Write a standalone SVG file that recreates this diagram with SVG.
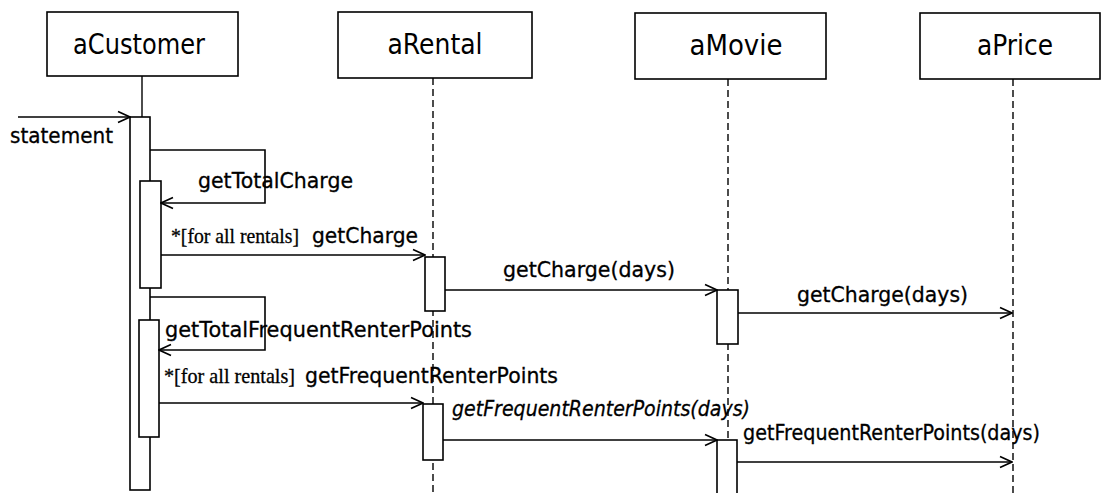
<svg xmlns="http://www.w3.org/2000/svg" width="1107" height="493" viewBox="0 0 1107 493">
  <style>
    .box { fill: #fff; stroke: #000; stroke-width: 1.6; }
    .act { fill: #fff; stroke: #000; stroke-width: 1.6; }
    .head { font-family: "DejaVu Sans", Verdana, sans-serif; font-size: 28px; fill: #000; text-anchor: middle; }
    .lbl { font-family: "DejaVu Sans", Verdana, sans-serif; font-size: 20.5px; fill: #000; stroke: #000; stroke-width: 0.3; }
    .guard { font-family: "Liberation Serif", "Times New Roman", serif; font-size: 21px; fill: #000; stroke: #000; stroke-width: 0.3; }
    .life { stroke: #000; stroke-width: 1.4; stroke-dasharray: 7 4; fill: none; }
    .msg { stroke: #000; stroke-width: 1.6; fill: none; }
  </style>
  <defs>
    <marker id="open" viewBox="0 0 14 14" refX="13" refY="7" markerWidth="14" markerHeight="14" markerUnits="userSpaceOnUse" orient="auto">
      <path d="M1,1.5 L13,7 L1,12.5" fill="none" stroke="#000" stroke-width="1.6"/>
    </marker>
  </defs>
  <rect width="1107" height="493" fill="#fff"/>

  <!-- lifelines -->
  <g id="lifelines">
    <line x1="142" y1="76" x2="142" y2="117" stroke="#000" stroke-width="1.4"/>
    <line class="life" x1="433" y1="78" x2="433" y2="493"/>
    <line class="life" x1="728" y1="79" x2="728" y2="493"/>
    <line class="life" x1="1013" y1="79" x2="1013" y2="493" stroke-width="2"/>
  </g>

  <!-- objects -->
  <g id="aCustomer">
    <rect class="box" x="47" y="12" width="191" height="64"/>
    <text class="head" x="139" y="54" textLength="132" lengthAdjust="spacingAndGlyphs">aCustomer</text>
    <rect class="act" x="130" y="117" width="20" height="373"/>
    <rect class="act" x="140" y="181" width="21" height="107"/>
    <rect class="act" x="139" y="320" width="20" height="117"/>
  </g>
  <g id="aRental">
    <rect class="box" x="338" y="12" width="194" height="66"/>
    <text class="head" x="435" y="54" textLength="95" lengthAdjust="spacingAndGlyphs">aRental</text>
    <rect class="act" x="425" y="257" width="20" height="54"/>
    <rect class="act" x="423" y="404" width="20" height="56"/>
  </g>
  <g id="aMovie">
    <rect class="box" x="635" y="13" width="191" height="66"/>
    <text class="head" x="736" y="55" textLength="93" lengthAdjust="spacingAndGlyphs">aMovie</text>
    <rect class="act" x="717" y="290" width="21" height="54"/>
    <rect class="act" x="717" y="440" width="20" height="60"/>
  </g>
  <g id="aPrice">
    <rect class="box" x="920" y="13" width="180" height="66"/>
    <text class="head" x="1015" y="55" textLength="76" lengthAdjust="spacingAndGlyphs">aPrice</text>
  </g>

  <!-- messages -->
  <g id="connectors">
    <line class="msg" x1="18" y1="117" x2="130" y2="117" marker-end="url(#open)"/>
    <polyline class="msg" points="150,150 265,150 265,203 161,203" marker-end="url(#open)"/>
    <line class="msg" x1="161" y1="255" x2="425" y2="255" marker-end="url(#open)"/>
    <line class="msg" x1="445" y1="290" x2="717" y2="290" marker-end="url(#open)"/>
    <line class="msg" x1="738" y1="313" x2="1012" y2="313" marker-end="url(#open)"/>
    <polyline class="msg" points="150,297 265,297 265,350 159,350" marker-end="url(#open)"/>
    <line class="msg" x1="159" y1="403" x2="423" y2="403" marker-end="url(#open)"/>
    <line class="msg" x1="443" y1="440" x2="717" y2="440" marker-end="url(#open)"/>
    <line class="msg" x1="737" y1="462" x2="1012" y2="462" marker-end="url(#open)"/>
  </g>

  <!-- message labels -->
  <g id="labels">
    <text class="lbl" x="10" y="143" textLength="103" lengthAdjust="spacingAndGlyphs">statement</text>
    <text class="lbl" x="198" y="188" textLength="155" lengthAdjust="spacingAndGlyphs">getTotalCharge</text>
    <text class="guard" x="171" y="243" textLength="128" lengthAdjust="spacingAndGlyphs">*[for all rentals]</text>
    <text class="lbl" x="312" y="243" textLength="106" lengthAdjust="spacingAndGlyphs">getCharge</text>
    <text class="lbl" x="503" y="277" textLength="172" lengthAdjust="spacingAndGlyphs">getCharge(days)</text>
    <text class="lbl" x="797" y="302" textLength="171" lengthAdjust="spacingAndGlyphs">getCharge(days)</text>
    <text class="lbl" x="165" y="337" textLength="307" lengthAdjust="spacingAndGlyphs">getTotalFrequentRenterPoints</text>
    <text class="guard" x="164" y="383" textLength="131" lengthAdjust="spacingAndGlyphs">*[for all rentals]</text>
    <text class="lbl" x="305" y="383" textLength="253" lengthAdjust="spacingAndGlyphs">getFrequentRenterPoints</text>
    <text class="lbl" x="452" y="416" font-style="italic" textLength="298" lengthAdjust="spacingAndGlyphs">getFrequentRenterPoints(days)</text>
    <text class="lbl" x="743" y="440" textLength="297" lengthAdjust="spacingAndGlyphs">getFrequentRenterPoints(days)</text>
  </g>
</svg>
